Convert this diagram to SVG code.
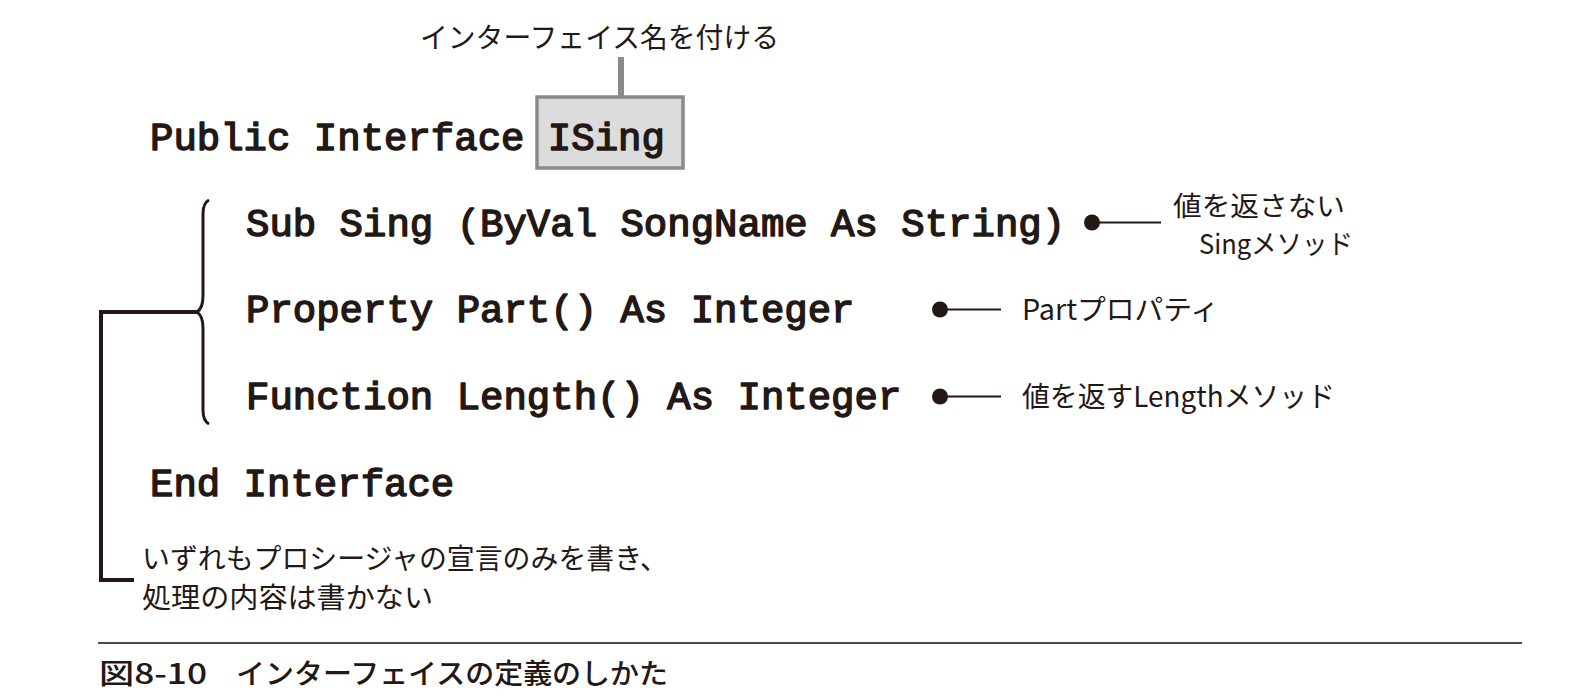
<svg xmlns="http://www.w3.org/2000/svg" width="1586" height="695" viewBox="0 0 1586 695">
<style>
.code{font-family:"Liberation Mono","DejaVu Sans Mono",monospace;font-weight:normal;font-size:39px;fill:#231815;stroke:#231815;stroke-width:1.5px;stroke-linejoin:round;}
.jp{font-family:"Noto Sans CJK JP","Noto Sans",sans-serif;font-size:28.5px;fill:#231815;}
.jps{font-family:"Noto Sans CJK JP","Noto Sans",sans-serif;font-size:27px;fill:#231815;}
.cap{font-family:"Noto Sans CJK JP","Noto Sans",sans-serif;font-size:28px;font-weight:500;fill:#231815;}
.ln{stroke:#231815;stroke-width:2.2;fill:none;}
.br{stroke:#231815;stroke-width:4;fill:none;}
</style>
<rect width="1586" height="695" fill="#ffffff"/>
<g id="connectors">
  <line x1="621" y1="57" x2="621" y2="97" stroke="#8a8a8a" stroke-width="6"/>
  <circle cx="1092" cy="222.5" r="8" fill="#231815"/>
  <line class="ln" x1="1092" y1="222.5" x2="1161" y2="222.5"/>
  <circle cx="940" cy="309.5" r="8" fill="#231815"/>
  <line class="ln" x1="940" y1="309.5" x2="1001" y2="309.5"/>
  <circle cx="940" cy="396.5" r="8" fill="#231815"/>
  <line class="ln" x1="940" y1="396.5" x2="1001" y2="396.5"/>
  <path class="br" d="M101,312 H197"/>
  <path class="br" d="M101,310 V580 H134"/>
  <path d="M209,200 Q203,203 203,214 V296 Q203,308 197,312 Q203,316 203,328 V410 Q203,421 209,424" stroke="#231815" stroke-width="3" fill="none"/>
</g>
<g id="label-name">
  <text class="jp" x="420" y="48" textLength="359" lengthAdjust="spacingAndGlyphs">インターフェイス名を付ける</text>
</g>
<g id="line-public">
  <rect x="537" y="97" width="146" height="71" fill="#dcdcdc" stroke="#8a8a8a" stroke-width="3.5"/>
  <text class="code" x="150" y="150">Public Interface ISing</text>
</g>
<g id="line-sub">
  <text class="code" x="246" y="236">Sub Sing (ByVal SongName As String)</text>
</g>
<g id="line-property">
  <text class="code" x="246" y="322">Property Part() As Integer</text>
</g>
<g id="line-function">
  <text class="code" x="246" y="409">Function Length() As Integer</text>
</g>
<g id="line-end">
  <text class="code" x="150" y="496">End Interface</text>
</g>
<g id="note-sing">
  <text class="jps" x="1173" y="216" textLength="172" lengthAdjust="spacingAndGlyphs">値を返さない</text>
  <text class="jps" x="1199" y="254" textLength="154" lengthAdjust="spacingAndGlyphs">Singメソッド</text>
</g>
<g id="note-part">
  <text class="jp" x="1022" y="320" textLength="197" lengthAdjust="spacingAndGlyphs">Partプロパティ</text>
</g>
<g id="note-length">
  <text class="jp" x="1022" y="407" textLength="313" lengthAdjust="spacingAndGlyphs">値を返すLengthメソッド</text>
</g>
<g id="note-bottom">
  <text class="jp" x="142" y="569" textLength="526" lengthAdjust="spacingAndGlyphs">いずれもプロシージャの宣言のみを書き、</text>
  <text class="jp" x="142" y="608" textLength="291" lengthAdjust="spacingAndGlyphs">処理の内容は書かない</text>
</g>
<g id="caption">
  <line x1="98" y1="643" x2="1522" y2="643" stroke="#4a4a4a" stroke-width="2"/>
  <text class="cap" x="99" y="684" textLength="108" lengthAdjust="spacingAndGlyphs">図8-10</text>
  <text class="cap" x="236" y="684" textLength="432" lengthAdjust="spacingAndGlyphs">インターフェイスの定義のしかた</text>
</g>
</svg>
